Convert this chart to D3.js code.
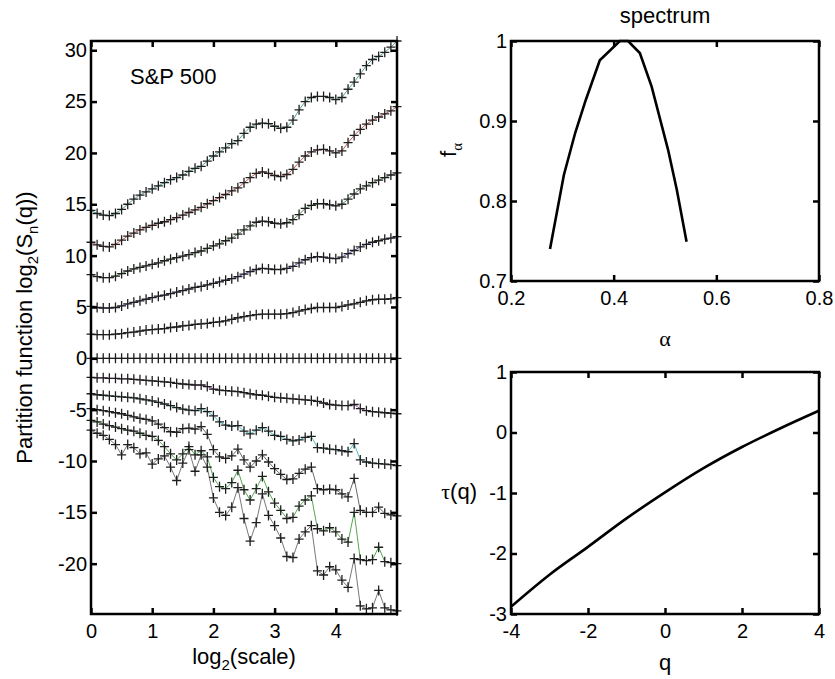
<!DOCTYPE html>
<meta charset="utf-8">
<style>
  body { margin: 0; background: #fff; }
  svg { font-family: "Liberation Sans", Arial, sans-serif; }
  .axis text { font-size: 20px; fill: #000; }
  .axis line { stroke: #000; stroke-width: 2.5; }
  .axis path { display: none; }
  .frame { fill: none; stroke: #000; stroke-width: 2.5; }
  .lbl { font-size: 22px; fill: #000; }
  .greek { font-family: "Liberation Serif", "DejaVu Serif", serif; }
  .mark { fill: none; stroke: #1e1e1e; stroke-width: 1.3; }
  .fitline { fill: none; stroke-width: 0.8; }
  .curve { fill: none; stroke: #000; stroke-width: 2.6; }
</style>
<body>
<svg width="835" height="679"></svg>
<script src="https://d3js.org/d3.v7.min.js"></script>
<script>
// log2(scale) sample positions
var logScale = [0, 0.1, 0.2, 0.3, 0.4, 0.5, 0.6, 0.7, 0.8, 0.9,
  1.0, 1.1, 1.2, 1.3, 1.4, 1.5, 1.6, 1.7, 1.8, 1.9,
  2.0, 2.1, 2.2, 2.3, 2.4, 2.5, 2.6, 2.7, 2.8, 2.9,
  3.0, 3.1, 3.2, 3.3, 3.4, 3.5, 3.6, 3.7, 3.8, 3.9,
  4.0, 4.1, 4.2, 4.3, 4.4, 4.5, 4.6, 4.7, 4.8, 4.9, 5.0];

// partition function log2(S_n(q)), one array per q (top to bottom)
var sq5 = [14.4, 14.1, 13.95, 13.9, 14.1, 14.5, 15.0, 15.5, 15.9, 16.2,
  16.5, 16.8, 17.1, 17.4, 17.6, 17.85, 18.2, 18.5, 18.7, 19.2,
  19.7, 20.1, 20.5, 20.9, 21.2, 21.9, 22.5, 22.8, 22.9, 22.85,
  22.6, 22.4, 22.5, 23.2, 24.2, 25.0, 25.4, 25.5, 25.5, 25.4,
  25.2, 25.4, 26.2, 26.9, 27.7, 28.5, 29.1, 29.4, 29.8, 30.3, 30.9];
var sq4 = [11.3, 11.05, 10.9, 10.85, 11.1, 11.5, 11.9, 12.2, 12.5, 12.75,
  12.95, 13.15, 13.3, 13.5, 13.7, 13.95, 14.2, 14.45, 14.7, 15.05,
  15.35, 15.65, 15.95, 16.3, 16.6, 17.1, 17.6, 18.0, 18.15, 18.0,
  17.8, 17.7, 17.9, 18.4, 19.1, 19.7, 20.1, 20.3, 20.35, 20.2,
  20.0, 20.2, 21.0, 21.7, 22.3, 22.8, 23.2, 23.5, 23.8, 24.1, 24.5];
var sq3 = [8.15, 7.95, 7.85, 7.85, 8.0, 8.25, 8.5, 8.7, 8.85, 9.0,
  9.15, 9.3, 9.5, 9.65, 9.8, 9.95, 10.1, 10.3, 10.45, 10.7,
  10.95, 11.15, 11.45, 11.7, 12.1, 12.5, 12.9, 13.25, 13.35, 13.3,
  13.15, 13.1, 13.2, 13.5, 14.0, 14.6, 14.9, 15.05, 15.05, 14.95,
  14.85, 15.0, 15.5, 16.0, 16.5, 16.8, 17.1, 17.35, 17.6, 17.85, 18.05];
var sq2 = [5.05, 4.95, 4.9, 4.9, 4.95, 5.1, 5.3, 5.45, 5.6, 5.75,
  5.9, 6.05, 6.15, 6.3, 6.45, 6.6, 6.75, 6.9, 7.0, 7.15,
  7.3, 7.45, 7.6, 7.75, 7.95, 8.2, 8.45, 8.65, 8.75, 8.7,
  8.65, 8.65, 8.75, 8.95, 9.3, 9.6, 9.8, 9.9, 9.85, 9.75,
  9.7, 9.85, 10.2, 10.5, 10.85, 11.1, 11.3, 11.45, 11.6, 11.7, 11.85];
var sq1 = [2.35, 2.3, 2.3, 2.3, 2.35, 2.4, 2.5, 2.55, 2.65, 2.75,
  2.8, 2.85, 2.9, 3.0, 3.05, 3.15, 3.2, 3.3, 3.35, 3.4,
  3.5, 3.55, 3.65, 3.8, 3.95, 4.05, 4.15, 4.25, 4.3, 4.3,
  4.3, 4.3, 4.35, 4.45, 4.6, 4.75, 4.85, 4.95, 4.95, 4.95,
  4.95, 5.05, 5.2, 5.3, 5.45, 5.6, 5.7, 5.75, 5.75, 5.8, 5.9];
var sq0 = [0, 0, 0, 0, 0, 0, 0, 0, 0, 0,
  0, 0, 0, 0, 0, 0, 0, 0, 0, 0,
  0, 0, 0, 0, 0, 0, 0, 0, 0, 0,
  0, 0, 0, 0, 0, 0, 0, 0, 0, 0,
  0, 0, 0, 0, 0, 0, 0, 0, 0, 0, 0];
var sqm1 = [-1.85, -1.9, -1.9, -1.95, -1.95, -2.0, -2.0, -2.05, -2.1, -2.15,
  -2.2, -2.25, -2.3, -2.35, -2.45, -2.5, -2.55, -2.6, -2.6, -2.75,
  -3.0, -3.1, -3.15, -3.2, -3.25, -3.35, -3.45, -3.55, -3.6, -3.7,
  -3.8, -3.85, -3.9, -3.95, -4.0, -4.05, -4.1, -4.2, -4.35, -4.5,
  -4.55, -4.6, -4.6, -4.5, -4.9, -5.1, -5.2, -5.25, -5.3, -5.35, -5.4];
var sqm2 = [-3.45, -3.55, -3.6, -3.65, -3.7, -3.75, -3.8, -3.85, -3.95, -4.05,
  -4.15, -4.3, -4.45, -4.6, -4.8, -4.95, -5.05, -5.1, -4.9, -5.2,
  -5.6, -6.2, -6.5, -6.6, -6.55, -7.1, -7.35, -7.0, -6.75, -7.1,
  -7.5, -7.6, -7.9, -8.05, -7.95, -7.7, -7.6, -8.7, -8.75, -8.85,
  -8.9, -9.0, -9.1, -8.3, -9.9, -10.1, -10.2, -10.25, -10.3, -10.35, -10.45];
var sqm3 = [-4.9, -5.0, -5.1, -5.2, -5.3, -5.4, -5.55, -5.7, -5.85, -5.95,
  -6.1, -6.4, -6.75, -7.15, -7.2, -6.85, -6.8, -6.9, -6.65, -7.4,
  -8.9, -9.6, -9.75, -9.5, -8.85, -9.9, -10.6, -10.0, -9.4, -10.1,
  -10.75, -11.3, -11.8, -11.75, -11.2, -10.8, -10.6, -12.7, -12.8, -12.75,
  -12.8, -13.2, -13.5, -11.7, -14.8, -15.0, -15.0, -14.5, -15.1, -15.25, -15.35];
var sqm4 = [-6.05, -6.2, -6.4, -6.55, -6.7, -6.85, -7.0, -7.1, -7.3, -7.5,
  -7.6, -8.0, -8.6, -9.3, -9.9, -9.3, -8.6, -9.4, -9.0, -9.6,
  -11.6, -12.5, -12.7, -12.1, -10.9, -12.8, -13.8, -12.7, -11.5, -13.0,
  -14.1, -14.8, -15.6, -15.5, -14.4, -13.8, -13.4, -16.6, -16.8, -16.5,
  -16.9, -17.6, -17.9, -15.0, -19.6, -19.7, -19.6, -18.4, -19.8, -19.9, -20.0];
var sqm5 = [-7.0, -7.3, -7.5, -7.9, -8.4, -9.4, -8.4, -8.7, -9.3, -9.2,
  -10.3, -9.8, -9.5, -10.6, -11.9, -10.2, -8.9, -11.0, -9.4, -10.6,
  -13.6, -15.0, -15.3, -14.5, -12.6, -15.6, -17.8, -16.0, -13.2, -15.3,
  -16.3, -17.5, -19.3, -19.4, -17.6, -16.9, -16.3, -20.7, -21.1, -20.3,
  -20.6, -21.6, -22.3, -19.5, -24.1, -24.4, -24.3, -22.6, -24.3, -24.5, -24.6];

var partition = [sq5, sq4, sq3, sq2, sq1, sq0, sqm1, sqm2, sqm3, sqm4, sqm5];
var lineColors = ["#2a8a80", "#b03030", "#2a6a2a", "#2a2a9a", "#333333", "#333333",
  "#8a2a8a", "#20b0b0", "#444444", "#2a902a", "#555555"];

var partXTicks = [0, 1, 2, 3, 4];
var partYTicks = [-20, -15, -10, -5, 0, 5, 10, 15, 20, 25, 30];

// multifractal spectrum
var alphaVals = [0.276, 0.303, 0.325, 0.3455, 0.373, 0.412, 0.428, 0.451, 0.474, 0.506, 0.523, 0.542];
var fAlpha = [0.740, 0.8325, 0.885, 0.926, 0.976, 1.0, 1.0, 0.985, 0.943, 0.864, 0.814, 0.749];
var alphaTicks = [0.2, 0.4, 0.6, 0.8];
var fTicks = [0.7, 0.8, 0.9, 1];

// scaling function tau(q)
var qVals = [-4, -3, -2, -1, 0, 1, 2, 3, 4];
var tauVals = [-2.88, -2.35, -1.89, -1.42, -0.99, -0.59, -0.24, 0.07, 0.36];
var qTicks = [-4, -2, 0, 2, 4];
var tauTicks = [-3, -2, -1, 0, 1];

var svg = d3.select("svg");
var fmt = function(d) { return String(d); };

// draws a MATLAB style box with inward ticks on all sides
function drawBox(g, x, y, xt, yt) {
  var w = x.range()[1] - x.range()[0], h = y.range()[0] - y.range()[1];
  g.append("g").attr("class", "axis").attr("transform", "translate(0," + h + ")")
    .call(d3.axisBottom(x).tickValues(xt).tickSize(-6).tickPadding(10).tickFormat(fmt));
  g.append("g").attr("class", "axis")
    .call(d3.axisTop(x).tickValues(xt).tickSize(-6).tickFormat(""));
  g.append("g").attr("class", "axis")
    .call(d3.axisLeft(y).tickValues(yt).tickSize(-6).tickPadding(4).tickFormat(fmt));
  g.append("g").attr("class", "axis").attr("transform", "translate(" + w + ",0)")
    .call(d3.axisRight(y).tickValues(yt).tickSize(-6).tickFormat(""));
  g.append("rect").attr("class", "frame").attr("width", w).attr("height", h);
}

// text with subscripts: parts = [[text, isSub, isGreek], ...]
function richText(sel, parts) {
  parts.forEach(function(p, i) {
    var prev = i > 0 && parts[i - 1][1];
    var t = sel.append("tspan").text(p[0]);
    if (p[1]) t.attr("dy", 6).attr("font-size", "15px");
    else if (prev) t.attr("dy", -6);
    if (p[2]) t.attr("class", "greek");
  });
}

// ---------- left panel ----------
var L = { left: 91, top: 41, w: 306, h: 573 };
var x1 = d3.scaleLinear().domain([0, 5]).range([0, L.w]);
var y1 = d3.scaleLinear().domain([-24.9, 30.9]).range([L.h, 0]);
var g1 = svg.append("g").attr("transform", "translate(" + L.left + "," + L.top + ")");

var line1 = d3.line().x(function(d, i) { return x1(logScale[i]); }).y(function(d) { return y1(d); });

// thin coloured lines first, black plus markers over them
partition.forEach(function(series, k) {
  g1.append("path").attr("class", "fitline").attr("stroke", lineColors[k]).attr("d", line1(series));
});
partition.forEach(function(series) {
  var marks = series.map(function(v, i) {
    var px = x1(logScale[i]), py = y1(v);
    return "M" + (px - 4.5) + "," + py + "h9M" + px + "," + (py - 5) + "v10";
  }).join("");
  g1.append("path").attr("class", "mark").attr("d", marks);
});
drawBox(g1, x1, y1, partXTicks, partYTicks);

g1.append("text").attr("class", "lbl").attr("x", 39).attr("y", 43).text("S&P 500");

var xl1 = svg.append("text").attr("class", "lbl").attr("text-anchor", "middle")
  .attr("x", L.left + L.w / 2).attr("y", 664);
richText(xl1, [["log", false], ["2", true], ["(scale)", false]]);

var yl1 = svg.append("text").attr("class", "lbl").attr("text-anchor", "middle")
  .attr("transform", "translate(32," + (L.top + L.h / 2) + ") rotate(-90)");
richText(yl1, [["Partition function log", false], ["2", true], ["(S", false], ["n", true], ["(q))", false]]);

// ---------- spectrum panel ----------
var R = { left: 511, w: 308 };
var x2 = d3.scaleLinear().domain([0.2, 0.8]).range([0, R.w]);
var y2 = d3.scaleLinear().domain([0.7, 1]).range([240, 0]);
var g2 = svg.append("g").attr("transform", "translate(" + R.left + ",41)");
g2.append("path").attr("class", "curve")
  .attr("d", d3.line().x(function(d, i) { return x2(alphaVals[i]); }).y(function(d) { return y2(d); })(fAlpha));
drawBox(g2, x2, y2, alphaTicks, fTicks);

svg.append("text").attr("class", "lbl").attr("text-anchor", "middle")
  .attr("x", R.left + R.w / 2).attr("y", 23).text("spectrum");
svg.append("text").attr("class", "lbl greek").attr("text-anchor", "middle")
  .attr("x", R.left + R.w / 2).attr("y", 346).text("α");
var yl2 = svg.append("text").attr("class", "lbl").attr("text-anchor", "middle")
  .attr("transform", "translate(456,150) rotate(-90)");
richText(yl2, [["f", false], ["α", true, true]]);

// ---------- tau panel ----------
var x3 = d3.scaleLinear().domain([-4, 4]).range([0, R.w]);
var y3 = d3.scaleLinear().domain([-3, 1]).range([242, 0]);
var g3 = svg.append("g").attr("transform", "translate(" + R.left + ",372)");
g3.append("path").attr("class", "curve")
  .attr("d", d3.line().curve(d3.curveMonotoneX)
    .x(function(d, i) { return x3(qVals[i]); }).y(function(d) { return y3(d); })(tauVals));
drawBox(g3, x3, y3, qTicks, tauTicks);

svg.append("text").attr("class", "lbl").attr("text-anchor", "middle")
  .attr("x", R.left + R.w / 2).attr("y", 670).text("q");
var yl3 = svg.append("text").attr("class", "lbl").attr("text-anchor", "end")
  .attr("x", 477).attr("y", 499);
richText(yl3, [["τ", false, true], ["(q)", false]]);
</script>
</body>
